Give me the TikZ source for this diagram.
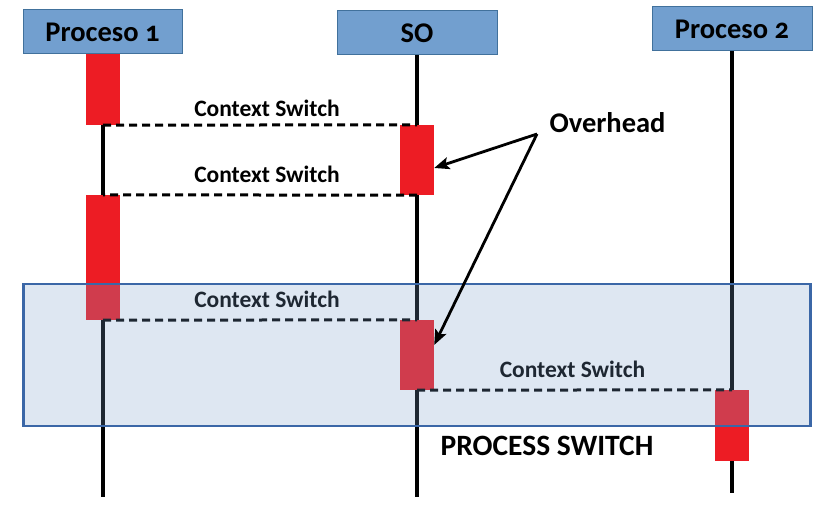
\documentclass[tikz,border=0pt]{standalone}
\usepackage{fontspec}
\setmainfont{Carlito}[Numbers=OldStyle]
\usetikzlibrary{calc,arrows.meta}
\definecolor{hdrfill}{RGB}{114,159,207}
\definecolor{hdrline}{RGB}{65,113,156}
\definecolor{barred}{RGB}{237,28,36}
\definecolor{boxfill}{RGB}{123,159,203}
\definecolor{boxline}{RGB}{59,103,167}
\begin{document}
\begin{tikzpicture}[x=1pt,y=-1pt,
  hdr/.style={draw=hdrline, line width=1pt, fill=hdrfill, minimum width=159pt, minimum height=44pt, inner sep=0pt, font=\bfseries\fontsize{28.5}{30}\selectfont},
  bar/.style={fill=barred, draw=none, minimum width=34pt, inner sep=0pt},
  life/.style={line width=3.5pt},
  cs/.style={line width=3pt, dash pattern=on 8pt off 5pt},
  lbl/.style={font=\bfseries\fontsize{23.5}{26}\selectfont, anchor=base, inner sep=0pt},
  big/.style={font=\bfseries\fontsize{28.5}{30}\selectfont, anchor=base, inner sep=0pt},
  arr/.style={line width=2.8pt, -{Stealth[length=15pt,width=12pt,inset=3pt]}},
]
\useasboundingbox (0,0) rectangle (825,527);
% headers
\node[hdr] (h1) at (102.5,32) {Proceso 1};
\node[hdr, minimum width=160pt] (h2) at (417,33) {SO};
\node[hdr, minimum width=160pt] (h3) at (732,29) {Proceso 2};
% bars
\node[bar, minimum height=71pt] (p1a) at (103,89.5) {};
\node[bar, minimum height=70pt] (so1) at (417,160) {};
\node[bar, minimum height=125pt] (p1b) at (103,257.5) {};
\node[bar, minimum height=70pt] (so2) at (417,355) {};
\node[bar, minimum height=71pt] (p2a) at (732,425.5) {};
% lifeline ends
\coordinate (e1) at (103,497);
\coordinate (e2) at (417,497);
\coordinate (e3) at (732,493);
% lifelines
\draw[life] (p1a.south) -- (p1b.north);
\draw[life] (p1b.south) -- (e1);
\draw[life] (h2.south) -- (so1.north);
\draw[life] (so1.south) -- (so2.north);
\draw[life] (so2.south) -- (e2);
\draw[life] (h3.south) -- (p2a.north);
\draw[life] (p2a.south) -- (e3);
% redraw bars on top of lifelines
\fill[barred] (p1a.south west) rectangle (p1a.north east);
\fill[barred] (so1.south west) rectangle (so1.north east);
\fill[barred] (p1b.south west) rectangle (p1b.north east);
\fill[barred] (so2.south west) rectangle (so2.north east);
\fill[barred] (p2a.south west) rectangle (p2a.north east);
% context switch dashes
\draw[cs] (p1a.south) -- (so1.north);
\draw[cs] (so1.south) -- (p1b.north);
\draw[cs] (p1b.south) -- (so2.north);
\draw[cs] (so2.south) -- (p2a.north);
% labels
\node[lbl] (c1) at (267,117) {Context Switch};
\node[lbl] (c2) at (267,182) {Context Switch};
\node[lbl] (c3) at (267,307) {Context Switch};
\node[lbl] (c4) at (572.5,377) {Context Switch};
% process switch box
\node[draw=boxline, line width=2.5pt, fill=boxfill, fill opacity=0.25, minimum width=787pt, minimum height=142pt, inner sep=0pt] (psbox) at (417,355) {};
\node[big, font=\bfseries\fontsize{29.5}{31}\selectfont] (ps) at (547,455) {PROCESS SWITCH};
% overhead
\node[big] (ov) at (607.5,132) {Overhead};
\coordinate (ovt) at (537,134);
\draw[arr] (ovt) -- ($(so1.east)+(0,8)$);
\draw[arr] (ovt) -- ($(so2.east)+(0,-10)$);
\end{tikzpicture}
\end{document}
